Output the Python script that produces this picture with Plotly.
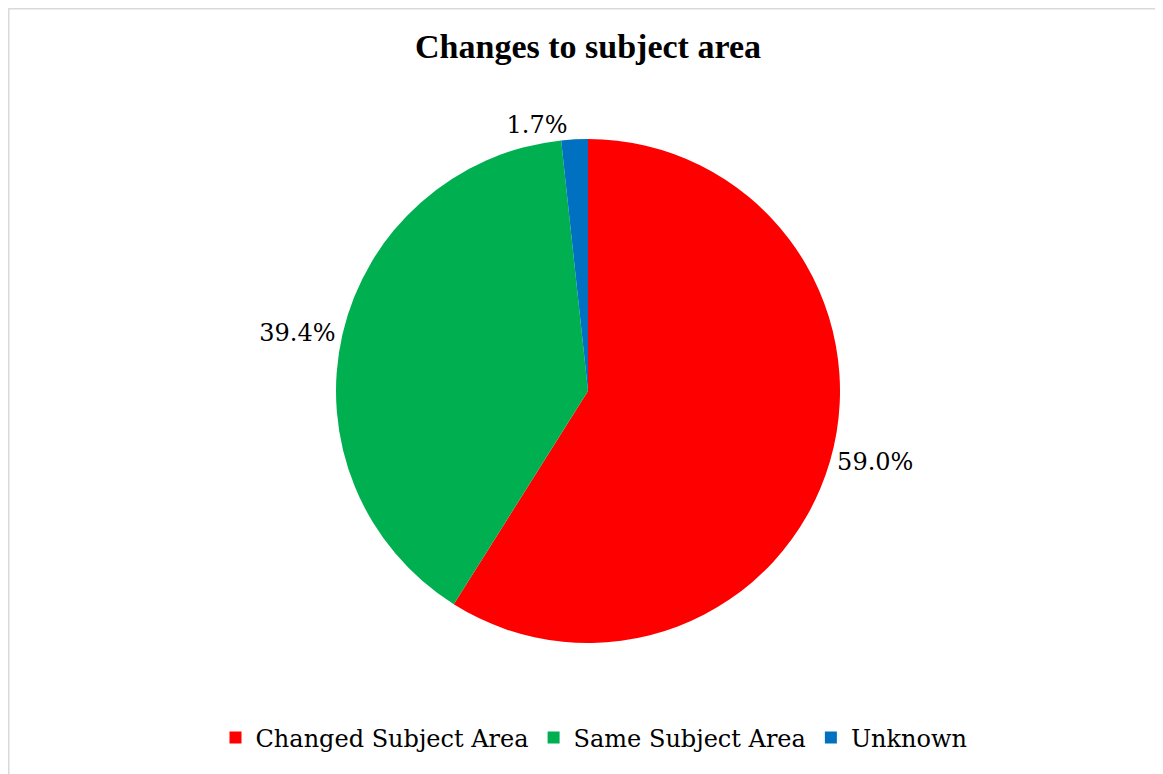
import plotly.graph_objs as go

labels = ['Changed Subject Area', 'Same Subject Area', 'Unknown']
values = [59.0, 39.4, 1.7]
colors = ['#FF0000', '#00B050', '#0070C0']

# page body has an 8px margin, so the figure is a bit smaller than the window
W, H = 1155, 766
cx, cy, r = 580, 383, 252

fig = go.Figure(data=go.Pie(
    labels=labels,
    values=values,
    marker=dict(colors=colors, line=dict(width=0)),
    sort=False,
    direction='clockwise',
    rotation=0,
    texttemplate='%{value:.1f}%',
    textposition='outside',
    outsidetextfont=dict(family='DejaVu Serif', size=24, color='#000000'),
    hoverinfo='label+value',
    domain=dict(x=[(cx - r) / W, (cx + r) / W], y=[1 - (cy + r) / H, 1 - (cy - r) / H]),
))

fig.update_layout(
    width=W,
    height=H,
    margin=dict(l=0, r=0, t=0, b=0),
    paper_bgcolor='white',
    title=dict(
        text='<b>Changes to subject area</b>',
        x=580 / W, xanchor='center',
        y=1 - 38 / H, yanchor='middle',
        font=dict(family='Liberation Serif', size=34, color='#000000'),
    ),
    showlegend=True,
    legend=dict(
        orientation='h',
        x=586 / W, xanchor='center',
        y=1 - 730 / H, yanchor='middle',
        font=dict(family='DejaVu Serif', size=24, color='#000000'),
        itemwidth=30,
        traceorder='normal',
    ),
    shapes=[dict(
        type='rect', xref='paper', yref='paper',
        x0=0.5 / W, x1=1.01, y0=-0.01, y1=1 - 0.5 / H,
        line=dict(color='#D9D9D9', width=2),
    )],
)

fig.write_html('out.html')
